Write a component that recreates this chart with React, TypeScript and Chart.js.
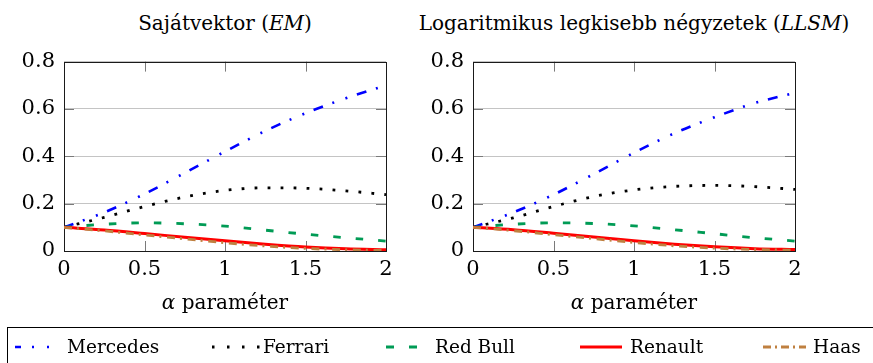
import React, { useEffect, useRef } from "react";
import { Chart, registerables } from "chart.js";

Chart.register(...registerables);

// ---------- data ----------
const alphaValues = [0, 0.25, 0.5, 0.75, 1, 1.25, 1.5, 1.75, 2];
const teams = ["Mercedes", "Ferrari", "Red Bull", "Renault", "Haas"];

const emMercedes = [0.1, 0.163, 0.241, 0.33, 0.42, 0.507, 0.582, 0.645, 0.7];
const emFerrari = [0.1, 0.142, 0.188, 0.228, 0.256, 0.267, 0.265, 0.254, 0.238];
const emRedBull = [0.1, 0.113, 0.119, 0.115, 0.105, 0.088, 0.071, 0.056, 0.042];
const emRenault = [0.1, 0.089, 0.074, 0.058, 0.043, 0.029, 0.017, 0.009, 0.005];
const emHaas = [0.1, 0.085, 0.068, 0.051, 0.035, 0.021, 0.011, 0.005, 0.002];

const llsmMercedes = [0.1, 0.163, 0.238, 0.325, 0.415, 0.497, 0.565, 0.625, 0.668];
const llsmFerrari = [0.1, 0.14, 0.188, 0.23, 0.258, 0.273, 0.277, 0.272, 0.26];
const llsmRedBull = [0.1, 0.113, 0.119, 0.116, 0.106, 0.09, 0.073, 0.056, 0.042];
const llsmRenault = [0.1, 0.09, 0.075, 0.059, 0.043, 0.029, 0.018, 0.01, 0.006];
const llsmHaas = [0.1, 0.086, 0.069, 0.052, 0.036, 0.022, 0.012, 0.006, 0.003];

const xTicks = [0, 0.5, 1, 1.5, 2];
const yTicks = [0, 0.2, 0.4, 0.6, 0.8];

// ---------- styles ----------
const SERIF = "'DejaVu Serif', 'Liberation Serif', serif";
const teamColors = ["#0000ff", "#000000", "#009b55", "#ff0000", "#bf8040"];
const teamDashes: number[][] = [
  [10, 10, 2, 12, 2, 10],
  [2.8, 10.2],
  [7.5, 15],
  [],
  [8, 5, 2, 5.7],
];
const teamWidths = [2.6, 2.8, 2.8, 3, 2.8];

const framePlugin = {
  id: "frameTicks",
  beforeDatasetsDraw(chart: any) {
    const { ctx, chartArea: a, scales } = chart;
    ctx.save();
    ctx.lineWidth = 1;
    ctx.strokeStyle = "#7a7a7a";
    ctx.beginPath();
    for (const t of scales.x.ticks) {
      if (t.value <= 0 || t.value >= 2) continue;
      const px = Math.round(scales.x.getPixelForValue(t.value)) + 0.5;
      ctx.moveTo(px, a.top);
      ctx.lineTo(px, a.top + 10);
      ctx.moveTo(px, a.bottom);
      ctx.lineTo(px, a.bottom - 10);
    }
    for (const t of scales.y.ticks) {
      if (t.value <= 0 || t.value >= 0.8) continue;
      const py = Math.round(scales.y.getPixelForValue(t.value)) + 0.5;
      ctx.moveTo(a.left, py);
      ctx.lineTo(a.left + 10, py);
      ctx.moveTo(a.right, py);
      ctx.lineTo(a.right - 10, py);
    }
    ctx.stroke();
    ctx.strokeStyle = "#1a1a1a";
    ctx.strokeRect(
      Math.round(a.left) + 0.5,
      Math.round(a.top) + 0.5,
      Math.round(a.right - a.left),
      Math.round(a.bottom - a.top)
    );
    ctx.restore();
  },
};

function Plot({ left, series }: { left: number; series: number[][] }) {
  const ref = useRef<HTMLCanvasElement>(null);
  useEffect(() => {
    const font = { family: SERIF, size: 21 };
    const chart = new Chart(ref.current as HTMLCanvasElement, {
      type: "line",
      data: {
        datasets: series.map((vals, i) => ({
          label: teams[i],
          data: alphaValues.map((x, j) => ({ x, y: vals[j] })),
          borderColor: teamColors[i],
          borderDash: teamDashes[i],
          borderWidth: teamWidths[i],
          borderCapStyle: "butt",
          pointRadius: 0,
          fill: false,
          cubicInterpolationMode: "monotone",
          order: 5 - i,
        })),
      },
      options: {
        animation: false,
        responsive: false,
        maintainAspectRatio: false,
        layout: { padding: { top: 20, right: 14, left: 0, bottom: 0 } },
        plugins: {
          legend: { display: false },
          title: { display: false },
          tooltip: { enabled: false },
        },
        scales: {
          x: {
            type: "linear",
            min: 0,
            max: 2,
            afterBuildTicks: (s: any) => {
              s.ticks = xTicks.map((v) => ({ value: v }));
            },
            grid: { display: false, drawTicks: false },
            border: { display: false },
            ticks: {
              font,
              color: "#000",
              padding: 6,
              maxRotation: 0,
              autoSkip: false,
              callback: (v: any) => String(v),
            },
            afterFit: (s: any) => {
              s.height = 49;
            },
          },
          y: {
            type: "linear",
            min: 0,
            max: 0.8,
            afterBuildTicks: (s: any) => {
              s.ticks = yTicks.map((v) => ({ value: v }));
            },
            grid: { color: "#c4c4c4", lineWidth: 1, drawTicks: false },
            border: { display: false },
            ticks: {
              font,
              color: "#000",
              padding: 9,
              autoSkip: false,
              callback: (v: any) => String(v),
            },
            afterFit: (s: any) => {
              s.width = 64;
            },
          },
        },
      } as any,
      plugins: [framePlugin],
    });
    return () => chart.destroy();
  }, []);
  return (
    <canvas
      ref={ref}
      width={400}
      height={260}
      style={{ position: "absolute", left, top: 40, width: 400, height: 260 }}
    />
  );
}

const textStyle: React.CSSProperties = {
  position: "absolute",
  fontFamily: SERIF,
  color: "#000",
  whiteSpace: "nowrap",
  lineHeight: "30px",
};

function Centered({ cx, top, size, children }: any) {
  return (
    <div
      style={{
        ...textStyle,
        left: cx - 300,
        width: 600,
        top,
        fontSize: size,
        textAlign: "center",
      }}
    >
      {children}
    </div>
  );
}

const legendSamples = [
  { x1: 15, x2: 49, dash: "6 11 2 13 2 20", text: 67 },
  { x1: 212, x2: 260, dash: "2.5 12.5", text: 263 },
  { x1: 386, x2: 417, dash: "8 15", text: 435 },
  { x1: 580, x2: 622, dash: "", text: 630 },
  { x1: 763, x2: 806, dash: "8 4 2 4", text: 813 },
];

export default function App() {
  return (
    <div
      style={{
        position: "absolute",
        left: 0,
        top: 0,
        width: 873,
        height: 363,
        overflow: "hidden",
        background: "#fff",
      }}
    >
      <Centered cx={225} top={8} size={20}>
        Sajátvektor (<i>EM</i>)
      </Centered>
      <Centered cx={634} top={8} size={20}>
        Logaritmikus legkisebb négyzetek (<i>LLSM</i>)
      </Centered>
      <Plot left={0} series={[emMercedes, emFerrari, emRedBull, emRenault, emHaas]} />
      <Plot left={409} series={[llsmMercedes, llsmFerrari, llsmRedBull, llsmRenault, llsmHaas]} />
      <Centered cx={225} top={287} size={20}>
        <i>α</i> paraméter
      </Centered>
      <Centered cx={634} top={287} size={20}>
        <i>α</i> paraméter
      </Centered>
      <div
        style={{
          position: "absolute",
          left: 7,
          top: 327,
          width: 900,
          height: 60,
          border: "1px solid #000",
          boxSizing: "border-box",
        }}
      />
      <svg
        width={873}
        height={363}
        style={{ position: "absolute", left: 0, top: 0, pointerEvents: "none" }}
      >
        {legendSamples.map((s, i) => (
          <line
            key={i}
            x1={s.x1}
            x2={s.x2}
            y1={347}
            y2={347}
            stroke={teamColors[i]}
            strokeWidth={teamWidths[i]}
            strokeDasharray={s.dash || undefined}
          />
        ))}
      </svg>
      {legendSamples.map((s, i) => (
        <div key={i} style={{ ...textStyle, left: s.text, top: 332, fontSize: 18.5 }}>
          {teams[i]}
        </div>
      ))}
    </div>
  );
}
